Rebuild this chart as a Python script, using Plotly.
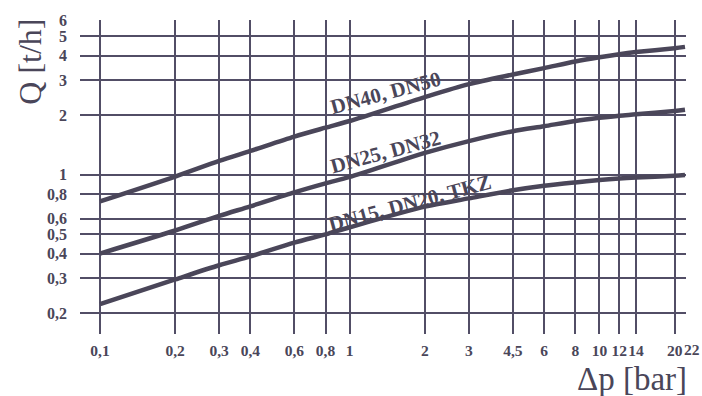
import plotly.graph_objects as go
import math

# Data (Δp in bar, Q in t/h)
dp = [0.1, 0.2, 0.3, 0.4, 0.6, 0.8, 1, 2, 3, 4.5, 6, 8, 10, 12, 14, 20, 22]
q_dn40_50 = [0.734, 0.98, 1.175, 1.32, 1.56, 1.73, 1.87, 2.47, 2.87, 3.21, 3.46, 3.74, 3.93, 4.07, 4.17, 4.36, 4.43]
q_dn25_32 = [0.40, 0.523, 0.62, 0.693, 0.815, 0.905, 0.975, 1.29, 1.48, 1.66, 1.76, 1.87, 1.94, 1.99, 2.02, 2.10, 2.13]
q_dn15_20 = [0.222, 0.296, 0.349, 0.387, 0.454, 0.50, 0.543, 0.69, 0.76, 0.835, 0.88, 0.915, 0.94, 0.958, 0.969, 0.988, 0.997]

series_names = ["DN40, DN50", "DN25, DN32", "DN15, DN20, TKZ"]
label_dp = [1.39, 1.39, 1.75]
label_q = [2.6, 1.30, 0.72]

x_tickvals = [0.1, 0.2, 0.3, 0.4, 0.6, 0.8, 1, 2, 3, 4.5, 6, 8, 10, 12, 14, 20, 22]
x_ticktext = ["0,1", "0,2", "0,3", "0,4", "0,6", "0,8", "1", "2", "3", "4,5", "6", "8", "10", "12", "14", "20", "22"]
y_tickvals = [0.2, 0.3, 0.4, 0.5, 0.6, 0.8, 1, 2, 3, 4, 5, 6]
y_ticktext = ["0,2", "0,3", "0,4", "0,5", "0,6", "0,8", "1", "2", "3", "4", "5", "6"]

INK = "#4a4659"
GRID = "#524e66"
SERIF = "Liberation Serif"
XTICKFONT = dict(family=SERIF, size=15.5, color=INK, weight="bold")
YTICKFONT = dict(family=SERIF, size=16, color=INK, weight="bold")

W, H = 702, 396
pl, pr, pt, pb = 80, 16, 18, 62
pw, ph = W - pl - pr, H - pt - pb


def px_to_paper(xp, yp):
    return (xp - pl) / pw, (H - pb - yp) / ph


fig = go.Figure()
for name, q in zip(series_names, [q_dn40_50, q_dn25_32, q_dn15_20]):
    fig.add_trace(go.Scatter(x=dp, y=q, mode="lines", name=name,
                             line=dict(color=INK, width=4.5, shape="spline", smoothing=0.8),
                             showlegend=False, hoverinfo="skip"))

for text, xv, yv in zip(series_names, label_dp, label_q):
    fig.add_annotation(x=math.log10(xv), y=math.log10(yv), xref="x", yref="y", text=text,
                       showarrow=False, textangle=-15,
                       font=dict(family=SERIF, size=21, color=INK, weight="bold"))

ax, ay = px_to_paper(30, 60)
fig.add_annotation(x=ax, y=ay, xref="paper", yref="paper", text="Q [t/h]", showarrow=False,
                   textangle=-90, xanchor="center", yanchor="middle",
                   font=dict(family=SERIF, size=32, color=INK))
bx, by = px_to_paper(632, 379)
fig.add_annotation(text="Δp [bar]", showarrow=False, xref="paper", yref="paper", x=bx, y=by,
                   xanchor="center", yanchor="middle",
                   font=dict(family=SERIF, size=33, color=INK))

# the last tick label ("22") is drawn offset to the right of its gridline, as in the original
last_tick_text = x_ticktext[-1]
shown_ticktext = x_ticktext[:-1] + [""]
lx, ly = px_to_paper(683, 349.5)
fig.add_annotation(text=last_tick_text, showarrow=False, xref="paper", yref="paper", x=lx, y=ly,
                   xanchor="left", yanchor="middle", borderpad=0, font=XTICKFONT)

fig.update_layout(
    width=W, height=H,
    margin=dict(l=pl, r=pr, t=pt, b=pb),
    paper_bgcolor="white", plot_bgcolor="white",
)

fig.update_xaxes(type="log", range=[-1.0801, math.log10(22) + 0.004],
                 tickvals=x_tickvals, ticktext=shown_ticktext, tickangle=0,
                 showgrid=True, gridcolor=GRID, gridwidth=1.5,
                 showline=False, zeroline=False, ticks="",
                 tickfont=XTICKFONT, ticklabelstandoff=5)
fig.update_yaxes(type="log", range=[-0.8045, math.log10(6) + 0.004],
                 tickvals=y_tickvals, ticktext=y_ticktext,
                 showgrid=True, gridcolor=GRID, gridwidth=1.5,
                 showline=False, zeroline=False, ticks="",
                 tickfont=YTICKFONT, ticklabelstandoff=12)

fig.write_html("out.html")
